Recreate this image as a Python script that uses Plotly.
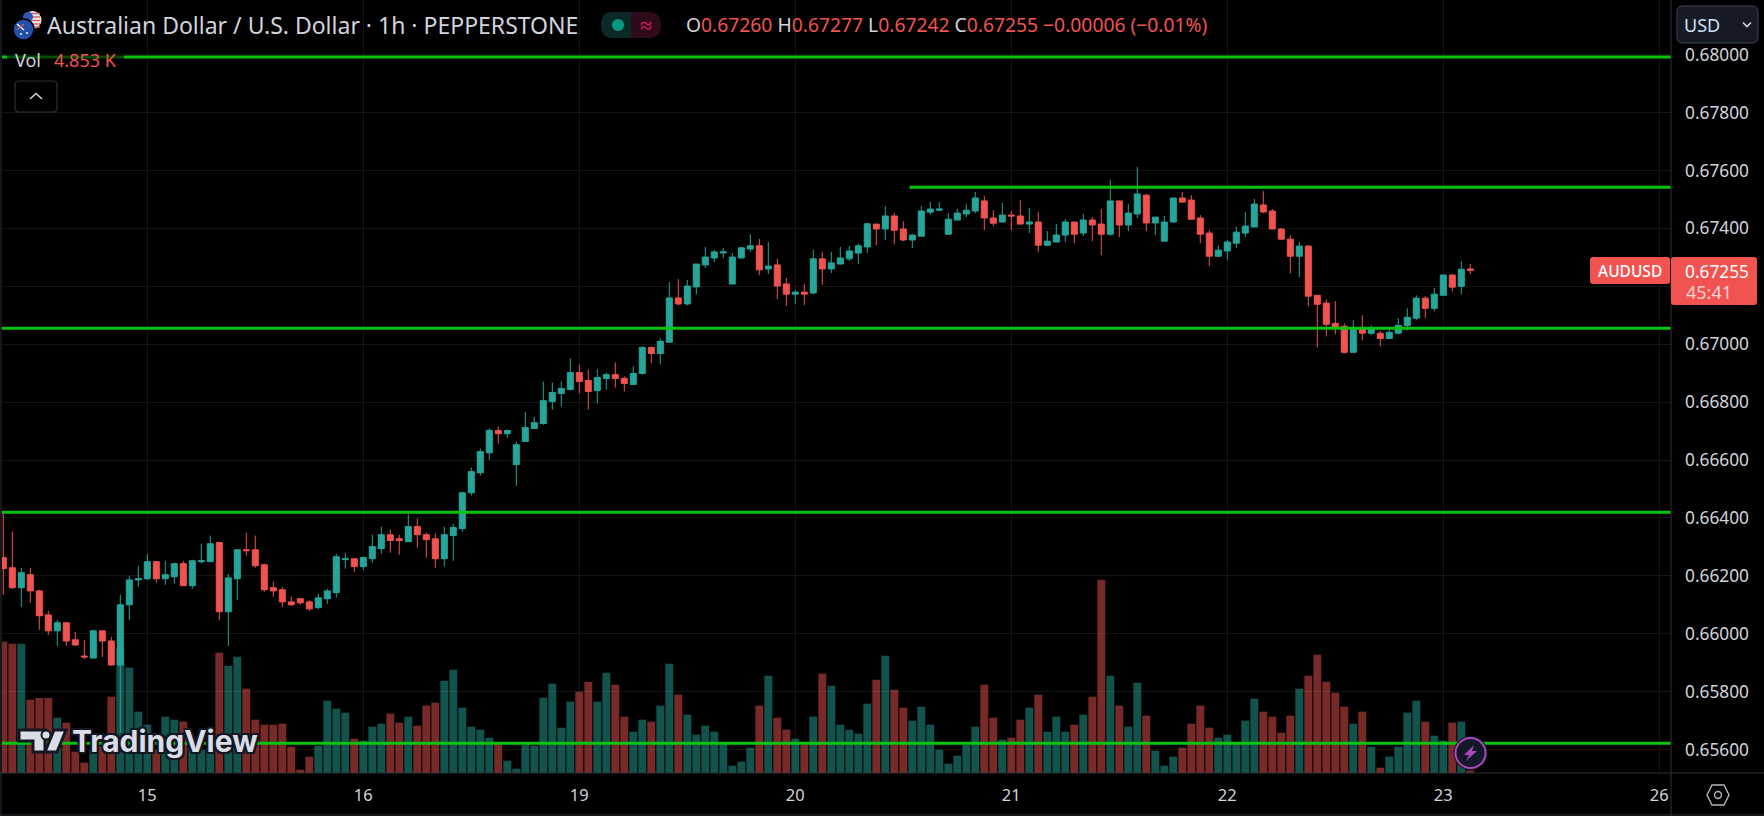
import plotly.graph_objects as go

# prices in 1e-5 units (pipettes)
open_pts = [66263,66228,66159,66204,66148,66065,66010,66038,65979,65923,65916,66010,65975,65892,66100,66186,66190,66249,66190,66197,
66242,66166,66249,66249,66315,66076,66190,66290,66290,66238,66159,66152,66110,66121,66110,66090,66121,66142,66256,66259,
66232,66259,66294,66342,66328,66318,66370,66342,66328,66259,66339,66363,66487,66556,66625,66702,66691,66584,66664,66709,
66726,66802,66830,66844,66902,66875,66840,66882,66895,66882,66861,66899,66989,66968,67007,67160,67139,67198,67274,67298,
67315,67208,67298,67329,67340,67260,67274,67208,67173,67180,67177,67295,67260,67277,67295,67315,67336,67415,67398,67443,
67398,67360,67373,67456,67463,67380,67429,67450,67460,67495,67436,67422,67446,67443,67415,67422,67342,67353,67377,67422,
67384,67429,67415,67380,67495,67412,67450,67515,67419,67356,67422,67505,67498,67436,67384,67304,67322,67349,67384,67405,
67481,67460,67398,67363,67304,67339,67169,67142,67072,67062,66972,67058,67038,67038,67020,67038,67065,67090,67159,67124,
67169,67239,67200,67260]
high_pts = [66421,66353,66228,66228,66152,66079,66048,66038,66006,65979,66013,66010,65989,66135,66200,66235,66276,66249,66252,66245,
66252,66256,66311,66339,66318,66207,66290,66349,66339,66242,66180,66162,66128,66124,66117,66138,66155,66276,66280,66259,
66266,66342,66370,66360,66342,66412,66398,66349,66346,66370,66380,66490,66574,66639,66709,66715,66705,66664,66767,66750,
66871,66868,66871,66951,66930,66913,66913,66902,66937,66889,66923,66992,66992,67020,67215,67225,67222,67277,67336,67326,
67333,67315,67336,67381,67364,67353,67295,67229,67187,67208,67326,67319,67319,67336,67340,67347,67419,67415,67477,67453,
67425,67380,67477,67491,67491,67453,67467,67484,67526,67512,67463,67488,67460,67498,67470,67457,67391,67415,67432,67422,
67450,67439,67467,67567,67495,67484,67612,67519,67439,67443,67505,67526,67515,67446,67394,67342,67360,67405,67457,67502,
67529,67467,67401,67377,67353,67342,67169,67155,67149,67072,67083,67100,67065,67045,67055,67090,67124,67169,67166,67194,
67242,67242,67287,67277]
low_pts = [66135,66155,66093,66107,66013,65996,65958,65958,65958,65913,65916,65920,65889,65657,66048,66162,66186,66176,66169,66173,
66166,66155,66242,66249,66048,65958,66117,66270,66228,66145,66128,66093,66097,66100,66079,66086,66103,66124,66225,66214,
66221,66245,66276,66280,66273,66318,66297,66263,66228,66232,66252,66353,66477,66546,66601,66657,66677,66511,66664,66709,
66722,66774,66785,66840,66830,66774,66795,66844,66850,66837,66861,66895,66934,66930,67007,67135,67135,67173,67263,67284,
67298,67208,67298,67319,67239,67243,67156,67132,67139,67135,67173,67205,67246,67277,67288,67277,67315,67342,67360,67346,
67356,67332,67373,67446,67460,67380,67429,67439,67453,67394,67408,67422,67394,67415,67384,67318,67339,67353,67353,67349,
67374,67356,67308,67374,67370,67391,67436,67391,67377,67356,67422,67488,67429,67349,67270,67301,67290,67332,67370,67405,
67453,67398,67360,67245,67232,67131,66989,67027,67034,66968,66972,67013,67031,66993,67020,67034,67048,67083,67090,67114,
67169,67183,67173,67242]
close_pts = [66225,66159,66211,66148,66062,66010,66038,65975,65961,65920,66010,65975,65892,66100,66186,66190,66249,66190,66204,66242,
66166,66252,66252,66311,66076,66193,66290,66287,66235,66152,66148,66110,66100,66107,66086,66124,66148,66266,66259,66232,
66263,66301,66342,66322,66322,66370,66342,66325,66259,66342,66367,66487,66560,66629,66702,66691,66702,66653,66712,66729,
66805,66833,66847,66902,66871,66837,66885,66895,66882,66864,66899,66989,66968,67010,67160,67139,67201,67277,67301,67319,
67319,67301,67333,67340,67257,67270,67201,67173,67180,67173,67295,67260,67281,67298,67322,67340,67416,67398,67443,67394,
67360,67377,67460,67467,67467,67432,67453,67463,67505,67436,67418,67446,67443,67415,67422,67342,67356,67377,67422,67380,
67429,67412,67380,67495,67412,67453,67519,67419,67439,67422,67505,67491,67432,67380,67304,67325,67353,67387,67408,67484,
67457,67398,67363,67304,67339,67166,67138,67069,67058,66972,67058,67038,67052,67020,67041,67065,67093,67159,67124,67173,
67239,67197,67259,67255]
# volume bar heights (relative units; last bar is 4.853 K)
volume = [394,388,388,220,225,225,166,151,64,31,70,80,229,373,316,184,145,70,169,160,154,90,70,70,361,322,349,253,160,145,145,148,79,10,49,82,217,193,181,103,
97,139,148,178,151,169,142,202,211,277,310,196,139,130,106,88,37,13,85,82,226,268,136,214,244,274,214,301,265,169,124,160,154,202,328,235,175,115,142,124,
90,22,34,76,202,292,166,130,103,85,169,298,262,145,130,118,208,280,352,250,196,157,199,145,70,28,52,85,139,265,166,100,106,160,196,235,124,169,124,145,
175,229,580,292,202,139,271,172,67,22,49,76,148,202,136,106,115,92,157,223,184,169,121,172,253,292,355,274,241,199,148,184,79,16,49,79,181,217,154,112,
97,151,154,8]
day_labels = ["15","16","19","20","21","22","23","26"]
day_bars = [16,40,64,88,112,136,160,184]
price_ticks = [0.656,0.658,0.660,0.662,0.664,0.666,0.668,0.670,0.672,0.674,0.676,0.678,0.680]
# 0.67200 sits under the last-price tag in the reference, so its label stays empty
price_labels = ["0.65600","0.65800","0.66000","0.66200","0.66400","0.66600","0.66800","0.67000","","0.67400","0.67600","0.67800","0.68000"]
level_prices = [0.67992,0.67542,0.67055,0.66420,0.65622]
level_starts = [-0.2,100.7,-0.2,-0.2,-0.2]
title_text = "Australian Dollar / U.S. Dollar · 1h · PEPPERSTONE"

W, H = 1764, 816
PL, PR, PB = 2, 1671, 773
FONT = "Noto Sans"
TXT = "#d1d4dc"
RED = "#f05350"
TEAL = "#26a69a"
LINE = "#2a2e39"
GRID = "#141414"

bars = list(range(len(open_pts)))
opens = [v / 1e5 for v in open_pts]
highs = [v / 1e5 for v in high_pts]
lows = [v / 1e5 for v in low_pts]
closes = [v / 1e5 for v in close_pts]
vol_colors = ["rgba(38,166,154,0.5)" if c >= o else "rgba(240,83,80,0.5)" for o, c in zip(open_pts, close_pts)]

fig = go.Figure()
fig.add_bar(x=bars, y=volume, marker=dict(color=vol_colors, line_width=0), width=0.88, yaxis="y", hoverinfo="skip")
fig.add_candlestick(x=bars, open=opens, high=highs, low=lows, close=closes, yaxis="y2", whiskerwidth=0,
                    increasing=dict(line=dict(color=TEAL, width=1), fillcolor=TEAL),
                    decreasing=dict(line=dict(color=RED, width=1), fillcolor=RED))
XMIN, XMAX = -0.144, 185.3
for p, s in zip(level_prices, level_starts):
    fig.add_scatter(x=[s, XMAX], y=[p, p], yaxis="y2", mode="lines", line=dict(color="#08c40f", width=3), hoverinfo="skip")


def fx(x): return (x - PL) / (PR - PL)
def fy(y): return 1 - y / PB


shapes, notes = [], []
def path(d, **kw):
    out = []
    for tok in d:
        if isinstance(tok, str):
            out.append(tok)
        else:
            out.append(f"{fx(tok[0]):.5f},{fy(tok[1]):.5f}")
    shapes.append(dict(type="path", xref="paper", yref="paper", path=" ".join(out), layer="above", **kw))
def rrect(x0, y0, x1, y1, r, fill=None, line=None, lw=1):
    d = ["M", (x0 + r, y0), "L", (x1 - r, y0), "Q", (x1, y0), (x1, y0 + r), "L", (x1, y1 - r), "Q", (x1, y1), (x1 - r, y1),
         "L", (x0 + r, y1), "Q", (x0, y1), (x0, y1 - r), "L", (x0, y0 + r), "Q", (x0, y0), (x0 + r, y0), "Z"]
    path(d, fillcolor=fill or "rgba(0,0,0,0)", line=dict(color=line or "rgba(0,0,0,0)", width=lw if line else 0))
def rect(x0, y0, x1, y1, fill):
    shapes.append(dict(type="rect", xref="paper", yref="paper", x0=fx(x0), x1=fx(x1), y0=fy(y1), y1=fy(y0),
                       fillcolor=fill, line_width=0, layer="above"))
def circ(cx, cy, r, fill, line=None, lw=1):
    shapes.append(dict(type="circle", xref="paper", yref="paper", x0=fx(cx - r), x1=fx(cx + r), y0=fy(cy + r), y1=fy(cy - r),
                       fillcolor=fill, line=dict(color=line or fill, width=lw if line else 0), layer="above"))
def seg(x0, y0, x1, y1, color, lw=1):
    shapes.append(dict(type="line", xref="paper", yref="paper", x0=fx(x0), x1=fx(x1), y0=fy(y0), y1=fy(y1),
                       line=dict(color=color, width=lw), layer="above"))
def text(x, y, s, size=17, color=TXT, anchor="left", family=FONT, **font):
    notes.append(dict(xref="paper", yref="paper", x=fx(x), y=fy(y), text=s, showarrow=False, xanchor=anchor, yanchor="middle",
                      borderpad=0, font=dict(size=size, color=color, family=family, **font)))


# frame and separators
seg(1, 0, 1, 816, LINE, 1)
seg(0, 815, 1764, 815, LINE, 1)
seg(1671, 0, 1671, 816, "#2f323a", 1)
seg(0, 773, 1764, 773, "#2f323a", 1)

# dimmed strip behind the Vol legend
rect(7, 47, 124, 67, "rgba(0,0,0,0.6)")

# flags
circ(32.5, 20, 9, "#e9e9f0")
for yy in (13.5, 17, 20.5, 24, 27):
    seg(25.5, yy, 40, yy, "#e05a5a", 1.4)
circ(28, 17, 5, "#2f57b5")
circ(23.5, 29.5, 10.5, "#2050aa", "#000000", 1.5)
seg(17, 24, 24, 30, "#f4f4f8", 1.6)
seg(24, 24, 17, 30, "#e06060", 1.2)
circ(27, 33, 1, "#ffffff")
circ(21, 34, 1, "#ffffff")
text(46, 25, title_text, size=23)

# status pill
rrect(601, 12, 660, 38, 12, fill="#0b2a27")
path(["M", (631, 12), "L", (648, 12), "Q", (661, 12), (661, 25), "Q", (661, 38), (648, 38), "L", (631, 38), "Z"], fillcolor="#2e0a1b", line_width=0)
circ(618, 25, 6, "#089981")
text(646, 24, "≈", size=22, color="#e91e63", anchor="center")

# OHLC values
R = f'<span style="color:{RED}">'
ohlc = (f'O{R}0.67260</span> H{R}0.67277</span> L{R}0.67242</span> C{R}0.67255</span> '
        f'{R}−0.00006 (−0.01%)</span>')
text(685, 25, ohlc, size=19.3)

# Vol legend and button
text(14, 60, "Vol", size=18)
text(53, 60, "4.853 K", size=18, color=RED)
rrect(15, 81, 57, 112, 4, line="#2a2e39", lw=1.2)
path(["M", (30, 99), "L", (36, 93.5), "L", (42, 99)], line=dict(color=TXT, width=1.6))

# currency button
rrect(1677, 6, 1758, 43, 6, fill="#161a25", line="#434651", lw=1)
text(1683, 25, "USD", size=18, color="#cfe0f5")
path(["M", (1743, 22.5), "L", (1747, 26.5), "L", (1751, 22.5)], line=dict(color=TXT, width=1.6))

# last price labels
rrect(1590, 257, 1670, 284, 3, fill=RED)
text(1630, 271, "AUDUSD", size=15.5, color="#ffffff", anchor="center", weight=500)
rrect(1671, 257, 1757, 305, 3, fill=RED)
text(1717, 271, "0.67255", size=17.3, color="#ffffff", anchor="center")
text(1685, 292, "45:41", size=18, color="#fbd0cf")

# TradingView logo
lw = dict(color="#131722", width=3)
path(["M", (19, 730), "L", (45, 730), "L", (45, 752), "L", (33, 752), "L", (33, 741), "L", (19, 741), "Z"], fillcolor="#dadde6", line=lw)
circ(46, 735, 4.5, "#dadde6", "#131722", 2)
path(["M", (54, 730), "L", (66, 730), "L", (57, 752), "L", (45, 752), "Z"], fillcolor="#dadde6", line=lw)
text(71, 741, "TradingView", size=30, color="#dadde6", family="Inter", weight=700,
     shadow="-2px 0 0 #131722, 2px 0 0 #131722, 0 -2px 0 #131722, 0 2px 0 #131722, -2px -2px 0 #131722, 2px 2px 0 #131722, -2px 2px 0 #131722, 2px -2px 0 #131722")

# lightning badge
circ(1470.5, 753, 17, "#131722")
circ(1470.5, 753, 15, "#141828", "#ab47bc", 2)
path(["M", (1474, 745), "L", (1464, 755), "L", (1469, 755), "L", (1466, 761), "L", (1477, 751), "L", (1472, 751), "Z"],
     fillcolor="#ab47bc", line_width=0)

# settings hexagon
path(["M", (1712, 785), "L", (1724, 785), "L", (1729, 795), "L", (1724, 805), "L", (1712, 805), "L", (1707, 795), "Z"],
     line=dict(color="#b2b5be", width=1.4))
circ(1718, 795, 3.5, "rgba(0,0,0,0)", "#b2b5be", 1.4)

fig.update_layout(
    width=W, height=H, margin=dict(l=PL, r=W - PR, t=0, b=H - PB),
    paper_bgcolor="#000000", plot_bgcolor="#000000", showlegend=False, barmode="overlay", boxgap=0.33, boxgroupgap=0,
    font=dict(family=FONT, color=TXT, size=17),
    xaxis=dict(type="linear", range=[XMIN, XMAX], tickmode="array", tickvals=day_bars, ticktext=day_labels,
               showgrid=True, gridcolor=GRID, gridwidth=1, zeroline=False, showline=False, ticks="",
               rangeslider=dict(visible=False), tickfont=dict(size=16.5, color=TXT), ticklabelstandoff=10),
    yaxis=dict(domain=[0, 1], range=[0, PB * 3], visible=False, showgrid=False, zeroline=False),
    yaxis2=dict(overlaying="y", side="right", range=[0.65519, 0.68189], tickmode="array", tickvals=price_ticks,
                ticktext=price_labels, showgrid=True, gridcolor=GRID, gridwidth=1, zeroline=False, showline=False,
                ticks="", tickfont=dict(size=17.3, color=TXT), ticklabelstandoff=13),
    shapes=shapes, annotations=notes,
)
fig.write_html("out.html", config=dict(displayModeBar=False),
               post_script="document.body.style.margin='0';document.body.style.background='#000';document.body.style.overflow='hidden';")
